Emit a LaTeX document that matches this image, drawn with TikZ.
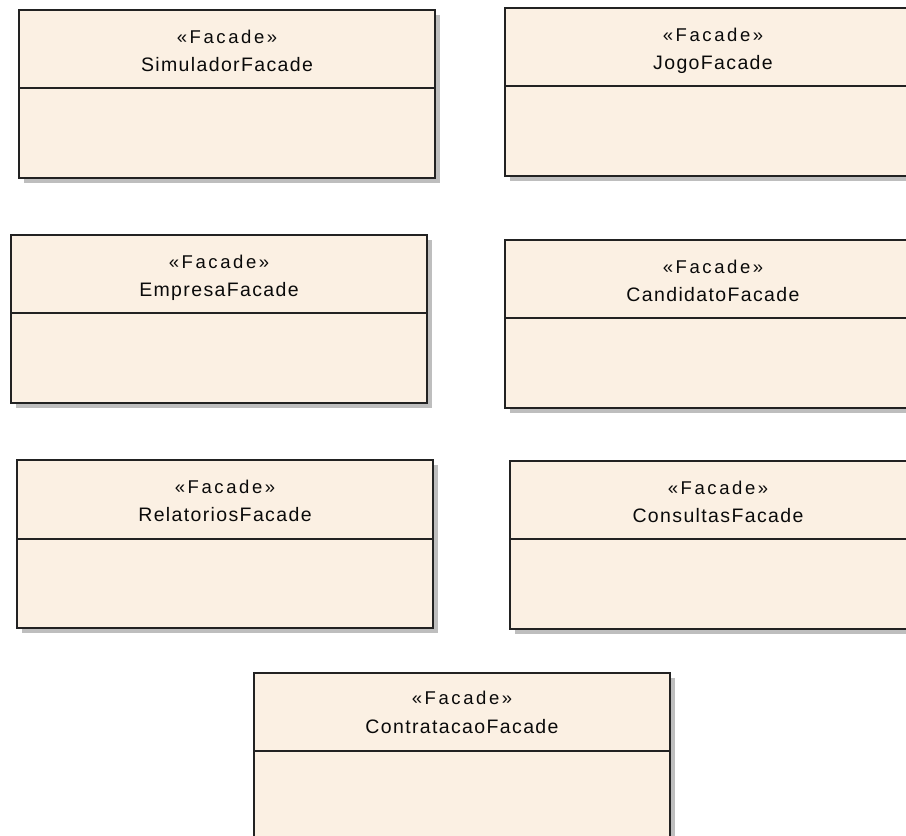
\documentclass[tikz,border=0pt]{standalone}
\usepackage{fontspec}
\usepackage{tikz}
\usetikzlibrary{shadows}
\newfontfamily\fontenome[LetterSpace=7]{Liberation Sans}
\newfontfamily\fonteestereo[LetterSpace=14]{Liberation Sans}
\definecolor{fundo}{RGB}{251,240,227}
\definecolor{borda}{RGB}{34,34,34}
\definecolor{sombra}{RGB}{190,190,190}
\definecolor{letra}{RGB}{10,10,10}
\tikzset{
  caixa/.style={draw=borda, line width=2pt, fill=fundo, inner sep=0pt,
    minimum width=416pt, minimum height=168pt, anchor=north west,
    drop shadow={shadow xshift=5pt, shadow yshift=-5pt, fill=sombra, opacity=1}},
  divisor/.style={draw=borda, line width=2pt},
  estereo/.style={anchor=base, inner sep=0pt, text=letra,
    font=\fonteestereo\fontsize{18.5}{20}\selectfont},
  nome/.style={anchor=base, inner sep=0pt, text=letra,
    font=\fontenome\fontsize{19.5}{22}\selectfont}
}

\begin{document}
\begin{tikzpicture}[x=1pt,y=-1pt]
      \useasboundingbox (0,0) rectangle (906,836);
      \clip (0,0) rectangle (906,836);
      % SimuladorFacade
      \node[caixa] (simulador) at (18,9) {};
      \draw[divisor] ([yshift=-79pt]simulador.north west) -- ([yshift=-79pt]simulador.north east);
      \node[estereo] (simulador-st) at ([yshift=-34pt]simulador.north) {«Facade»};
      \node[nome] (simulador-nm) at ([yshift=-62pt]simulador.north) {SimuladorFacade};
      % JogoFacade
      \node[caixa] (jogo) at (504,7) {};
      \draw[divisor] ([yshift=-79pt]jogo.north west) -- ([yshift=-79pt]jogo.north east);
      \node[estereo] (jogo-st) at ([yshift=-34pt]jogo.north) {«Facade»};
      \node[nome] (jogo-nm) at ([yshift=-62pt]jogo.north) {JogoFacade};
      % EmpresaFacade
      \node[caixa] (empresa) at (10,234) {};
      \draw[divisor] ([yshift=-79pt]empresa.north west) -- ([yshift=-79pt]empresa.north east);
      \node[estereo] (empresa-st) at ([yshift=-34pt]empresa.north) {«Facade»};
      \node[nome] (empresa-nm) at ([yshift=-62pt]empresa.north) {EmpresaFacade};
      % CandidatoFacade
      \node[caixa] (candidato) at (504,239) {};
      \draw[divisor] ([yshift=-79pt]candidato.north west) -- ([yshift=-79pt]candidato.north east);
      \node[estereo] (candidato-st) at ([yshift=-34pt]candidato.north) {«Facade»};
      \node[nome] (candidato-nm) at ([yshift=-62pt]candidato.north) {CandidatoFacade};
      % RelatoriosFacade
      \node[caixa] (relatorios) at (16,459) {};
      \draw[divisor] ([yshift=-80pt]relatorios.north west) -- ([yshift=-80pt]relatorios.north east);
      \node[estereo] (relatorios-st) at ([yshift=-34pt]relatorios.north) {«Facade»};
      \node[nome] (relatorios-nm) at ([yshift=-62pt]relatorios.north) {RelatoriosFacade};
      % ConsultasFacade
      \node[caixa] (consultas) at (509,460) {};
      \draw[divisor] ([yshift=-79pt]consultas.north west) -- ([yshift=-79pt]consultas.north east);
      \node[estereo] (consultas-st) at ([yshift=-34pt]consultas.north) {«Facade»};
      \node[nome] (consultas-nm) at ([yshift=-62pt]consultas.north) {ConsultasFacade};
      % ContratacaoFacade
      \node[caixa] (contratacao) at (253,672) {};
      \draw[divisor] ([yshift=-79pt]contratacao.north west) -- ([yshift=-79pt]contratacao.north east);
      \node[estereo] (contratacao-st) at ([yshift=-32pt]contratacao.north) {«Facade»};
      \node[nome] (contratacao-nm) at ([yshift=-61pt]contratacao.north) {ContratacaoFacade};
    \end{tikzpicture}
\end{document}
